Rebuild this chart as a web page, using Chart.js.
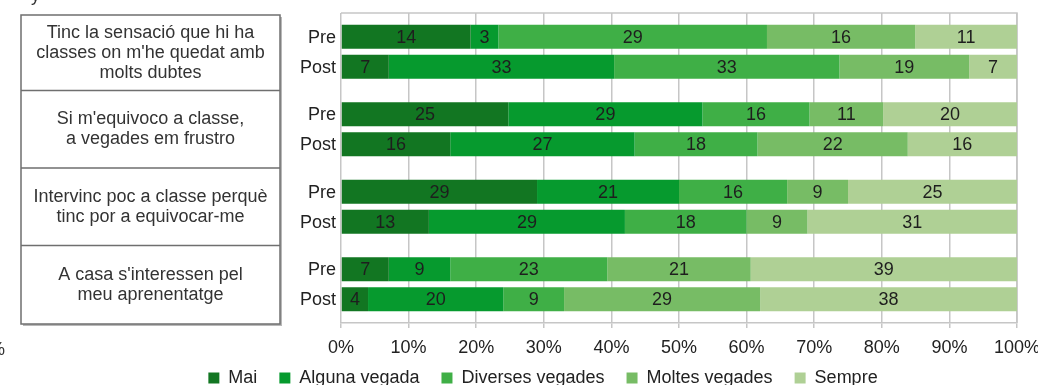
<!DOCTYPE html>
<html>
<head>
<meta charset="utf-8">
<script src="https://cdn.jsdelivr.net/npm/chart.js@4/dist/chart.umd.min.js"></script>
<style>
  html, body { margin: 0; padding: 0; background: #fff; width: 1038px; height: 385px; overflow: hidden; }
  #wrap { position: absolute; left: 0; top: 0; width: 1038px; height: 409px; }
  .stray { position: absolute; font-family: "Liberation Sans", Arial, sans-serif; font-size: 18px; line-height: 20px; color: #333; }
</style>
</head>
<body>
<div id="wrap"><canvas id="chart"></canvas></div>
<span class="stray" style="left:31px; top:-15px;">y</span>
<span class="stray" style="left:-11px; top:339px;">%</span>
<script>
// Survey statements (one row block each), split into display lines
const questions = [
  ["Tinc la sensació que hi ha", "classes on m'he quedat amb", "molts dubtes"],
  ["Si m'equivoco a classe,", "a vegades em frustro"],
  ["Intervinc poc a classe perquè", "tinc por a equivocar-me"],
  ["A casa s'interessen pel", "meu aprenentatge"]
];
const phases = ["Pre", "Post"];
const answers = ["Mai", "Alguna vegada", "Diverses vegades", "Moltes vegades", "Sempre"];
const answerColors = ["#127622", "#069A2E", "#3FAF46", "#77BC65", "#AFD095"];

// Responses per answer, one value per statement
const preMai       = [14, 25, 29, 7];
const preAlguna    = [3, 29, 21, 9];
const preDiverses  = [29, 16, 16, 23];
const preMoltes    = [16, 11, 9, 21];
const preSempre    = [11, 20, 25, 39];

const postMai      = [7, 16, 13, 4];
const postAlguna   = [33, 27, 29, 20];
const postDiverses = [33, 18, 18, 9];
const postMoltes   = [19, 22, 9, 29];
const postSempre   = [7, 16, 31, 38];

const xTickValues = [0, 10, 20, 30, 40, 50, 60, 70, 80, 90, 100];

const seriesByPhase = {
  Pre:  [preMai, preAlguna, preDiverses, preMoltes, preSempre],
  Post: [postMai, postAlguna, postDiverses, postMoltes, postSempre]
};

const FONT = "'Liberation Sans', Arial, sans-serif";
Chart.defaults.font.family = FONT;
Chart.defaults.font.size = 18;
Chart.defaults.color = "#222";

// Each bar is a 100% stack: every count is shown as a share of its row total
const datasets = [];
phases.forEach(phase => {
  const series = seriesByPhase[phase];
  const totals = series[0].map((_, q) => series.reduce((s, arr) => s + arr[q], 0));
  series.forEach((counts, a) => {
    datasets.push({
      label: answers[a],
      stack: phase,
      counts: counts,
      data: counts.map((v, q) => v / totals[q] * 100),
      backgroundColor: answerColors[a],
      borderWidth: 0,
      barPercentage: 0.8,
      categoryPercentage: 0.774
    });
  });
});

const GRID = "#c6c6c6";

// Boxed statement table to the left of the bars, rows follow the category bands
const statementTable = {
  id: "statementTable",
  afterDraw(chart) {
    const { ctx, chartArea, scales: { y } } = chart;
    const left = 21, right = 280;
    const top = chartArea.top + 2, bottom = chartArea.bottom + 1;
    const n = questions.length;
    const edges = [top];
    for (let i = 0; i < n - 1; i++) {
      edges.push((y.getPixelForValue(i) + y.getPixelForValue(i + 1)) / 2);
    }
    edges.push(bottom);
    ctx.save();
    ctx.fillStyle = "rgba(0,0,0,0.28)";
    ctx.fillRect(left + 2, top + 2, right - left, bottom - top);
    ctx.fillStyle = "#fff";
    ctx.fillRect(left, top, right - left, bottom - top);
    ctx.strokeStyle = "#6f6f6f";
    ctx.lineWidth = 1.5;
    ctx.strokeRect(left, top, right - left, bottom - top);
    ctx.beginPath();
    for (let i = 1; i < n; i++) {
      ctx.moveTo(left, edges[i]);
      ctx.lineTo(right, edges[i]);
    }
    ctx.stroke();
    ctx.fillStyle = "#333";
    ctx.font = "18px " + FONT;
    ctx.textAlign = "center";
    ctx.textBaseline = "middle";
    const lineH = 20;
    questions.forEach((lines, i) => {
      const mid = (edges[i] + edges[i + 1]) / 2;
      lines.forEach((t, k) => {
        ctx.fillText(t, (left + right) / 2, mid + (k - (lines.length - 1) / 2) * lineH);
      });
    });
    ctx.restore();
  }
};

// Chart frame, phase labels and segment values
const barLabels = {
  id: "barLabels",
  beforeDatasetsDraw(chart) {
    const { ctx, chartArea } = chart;
    ctx.save();
    ctx.strokeStyle = GRID;
    ctx.lineWidth = 1.5;
    ctx.beginPath();
    ctx.moveTo(chartArea.left, chartArea.top);
    ctx.lineTo(chartArea.right, chartArea.top);
    ctx.lineTo(chartArea.right, chartArea.bottom);
    ctx.stroke();
    ctx.restore();
  },
  afterDatasetsDraw(chart) {
    const { ctx, chartArea } = chart;
    ctx.save();
    ctx.font = "18px " + FONT;
    ctx.textBaseline = "middle";
    ctx.fillStyle = "#1e1e1e";
    ctx.textAlign = "center";
    chart.data.datasets.forEach((ds, i) => {
      const meta = chart.getDatasetMeta(i);
      meta.data.forEach((bar, j) => {
        ctx.fillText(String(ds.counts[j]), (bar.x + bar.base) / 2, bar.y + 1);
      });
    });
    ctx.textAlign = "right";
    ctx.fillStyle = "#222";
    phases.forEach((phase, p) => {
      const meta = chart.getDatasetMeta(p * answers.length);
      meta.data.forEach(bar => {
        ctx.fillText(phase, chartArea.left - 5, bar.y + 1);
      });
    });
    ctx.restore();
  }
};

// Pull the legend row a little closer to the axis labels
const legendLift = {
  id: "legendLift",
  afterLayout(chart) {
    const lg = chart.legend;
    if (lg) { lg.top -= 12; lg.bottom -= 12; }
  }
};

new Chart(document.getElementById("chart"), {
  type: "bar",
  data: { labels: questions.map(l => l.join(" ")), datasets },
  options: {
    indexAxis: "y",
    responsive: true,
    maintainAspectRatio: false,
    animation: false,
    events: [],
    layout: { padding: { left: 69, right: 21, top: 13, bottom: 0 } },
    scales: {
      x: {
        stacked: true,
        min: 0,
        max: 100,
        afterBuildTicks(scale) { scale.ticks = xTickValues.map(v => ({ value: v })); },
        afterFit(scale) { scale.height = 36; scale.paddingLeft = 0; scale.paddingRight = 0; },
        ticks: { color: "#222", padding: 9, maxRotation: 0, autoSkip: false, callback: v => v + "%" },
        grid: { color: GRID, lineWidth: 1.5, tickLength: 5, tickColor: GRID },
        border: { color: GRID, width: 1.5 }
      },
      y: {
        afterFit(scale) { scale.width = 272; },
        ticks: { display: false },
        grid: { display: false },
        border: { display: false }
      }
    },
    plugins: {
      legend: {
        position: "bottom",
        labels: {
          boxWidth: 11,
          boxHeight: 11,
          padding: 22,
          color: "#222",
          font: { size: 18 },
          filter: item => item.datasetIndex < answers.length
        }
      },
      tooltip: { enabled: false }
    }
  },
  plugins: [statementTable, barLabels, legendLift]
});
</script>
</body>
</html>
